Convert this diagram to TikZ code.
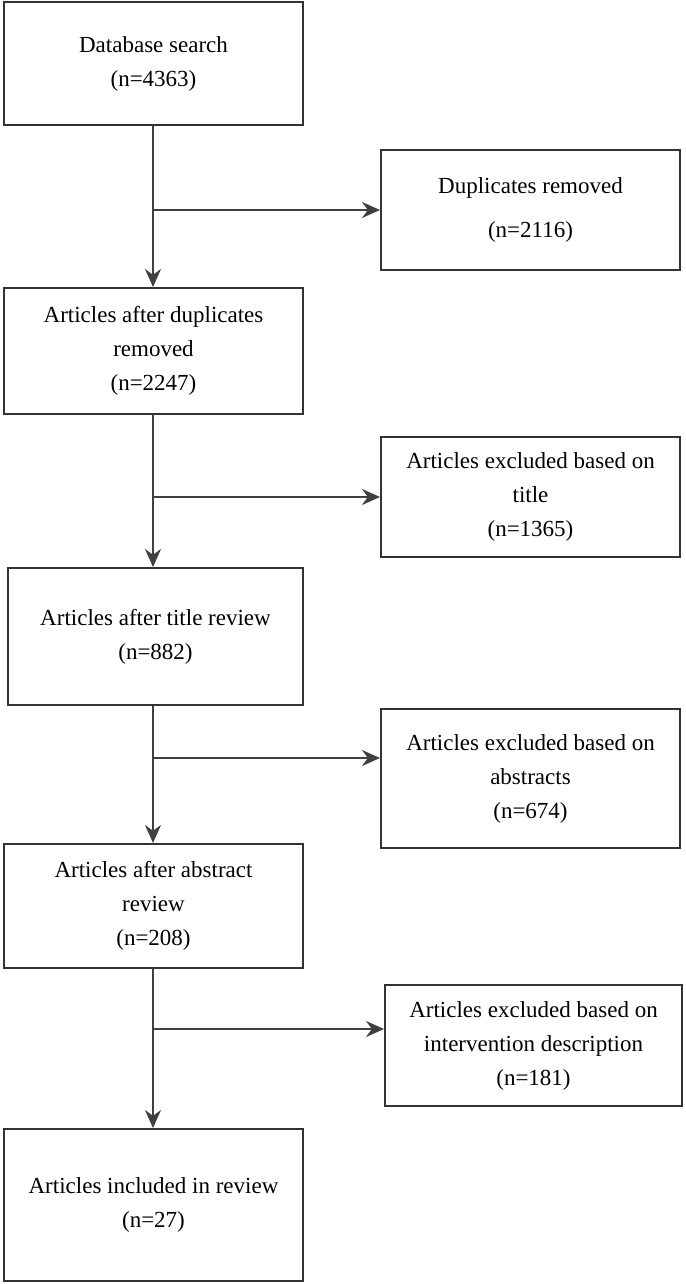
\documentclass[tikz,border=0pt]{standalone}
\usepackage{fontspec}
\setmainfont{Liberation Serif}
\usetikzlibrary{arrows.meta}
\tikzset{
  box/.style={draw=black!80, line width=1pt, minimum width=149.5pt, align=center,
    font=\fontsize{11.5}{17}\selectfont, inner sep=2pt},
  flow/.style={draw=black!75, line width=1pt, -{Stealth[length=9pt,width=8pt]}}
}
\begin{document}
\begin{tikzpicture}[x=0.5pt, y=-0.5pt]
\useasboundingbox (0,0) rectangle (685,1284);
% left column
\node[box, minimum height=61.5pt] (search) at (153.5,63.5) {Database search\\(n=4363)};
\node[box, minimum height=63pt] (dedup) at (153.5,351) {Articles after duplicates\\removed\\(n=2247)};
\node[box, minimum width=147.5pt, minimum height=68.5pt] (title) at (155.5,636.5) {Articles after title review\\(n=882)};
\node[box, minimum height=62pt] (abstract) at (153.5,906) {Articles after abstract\\review\\(n=208)};
\node[box, minimum height=76pt] (included) at (153.5,1205) {Articles included in review\\(n=27)};
% right column
\node[box, minimum height=60pt, font=\fontsize{11.5}{22}\selectfont] (dup) at (530.5,210) {Duplicates removed\\(n=2116)};
\node[box, minimum height=60pt] (extitle) at (530.5,497) {Articles excluded based on\\title\\(n=1365)};
\node[box, minimum height=69.5pt] (exabs) at (530.5,778.5) {Articles excluded based on\\abstracts\\(n=674)};
\node[box, minimum width=148.5pt, minimum height=60.5pt] (exint) at (533.5,1045.5) {Articles excluded based on\\intervention description\\(n=181)};
% branch points
\coordinate (b1) at (153,210);
\coordinate (b2) at (153,497);
\coordinate (b3) at (153,758);
\coordinate (b4) at (153,1029);
% connectors
\draw[flow] (search.south -| b1) -- (dedup.north -| b1);
\draw[flow] (dedup.south -| b2) -- (title.north -| b2);
\draw[flow] (title.south -| b3) -- (abstract.north -| b3);
\draw[flow] (abstract.south -| b4) -- (included.north -| b4);
\draw[flow] (b1) -- (dup.west |- b1);
\draw[flow] (b2) -- (extitle.west |- b2);
\draw[flow] (b3) -- (exabs.west |- b3);
\draw[flow] (b4) -- (exint.west |- b4);
\end{tikzpicture}
\end{document}
